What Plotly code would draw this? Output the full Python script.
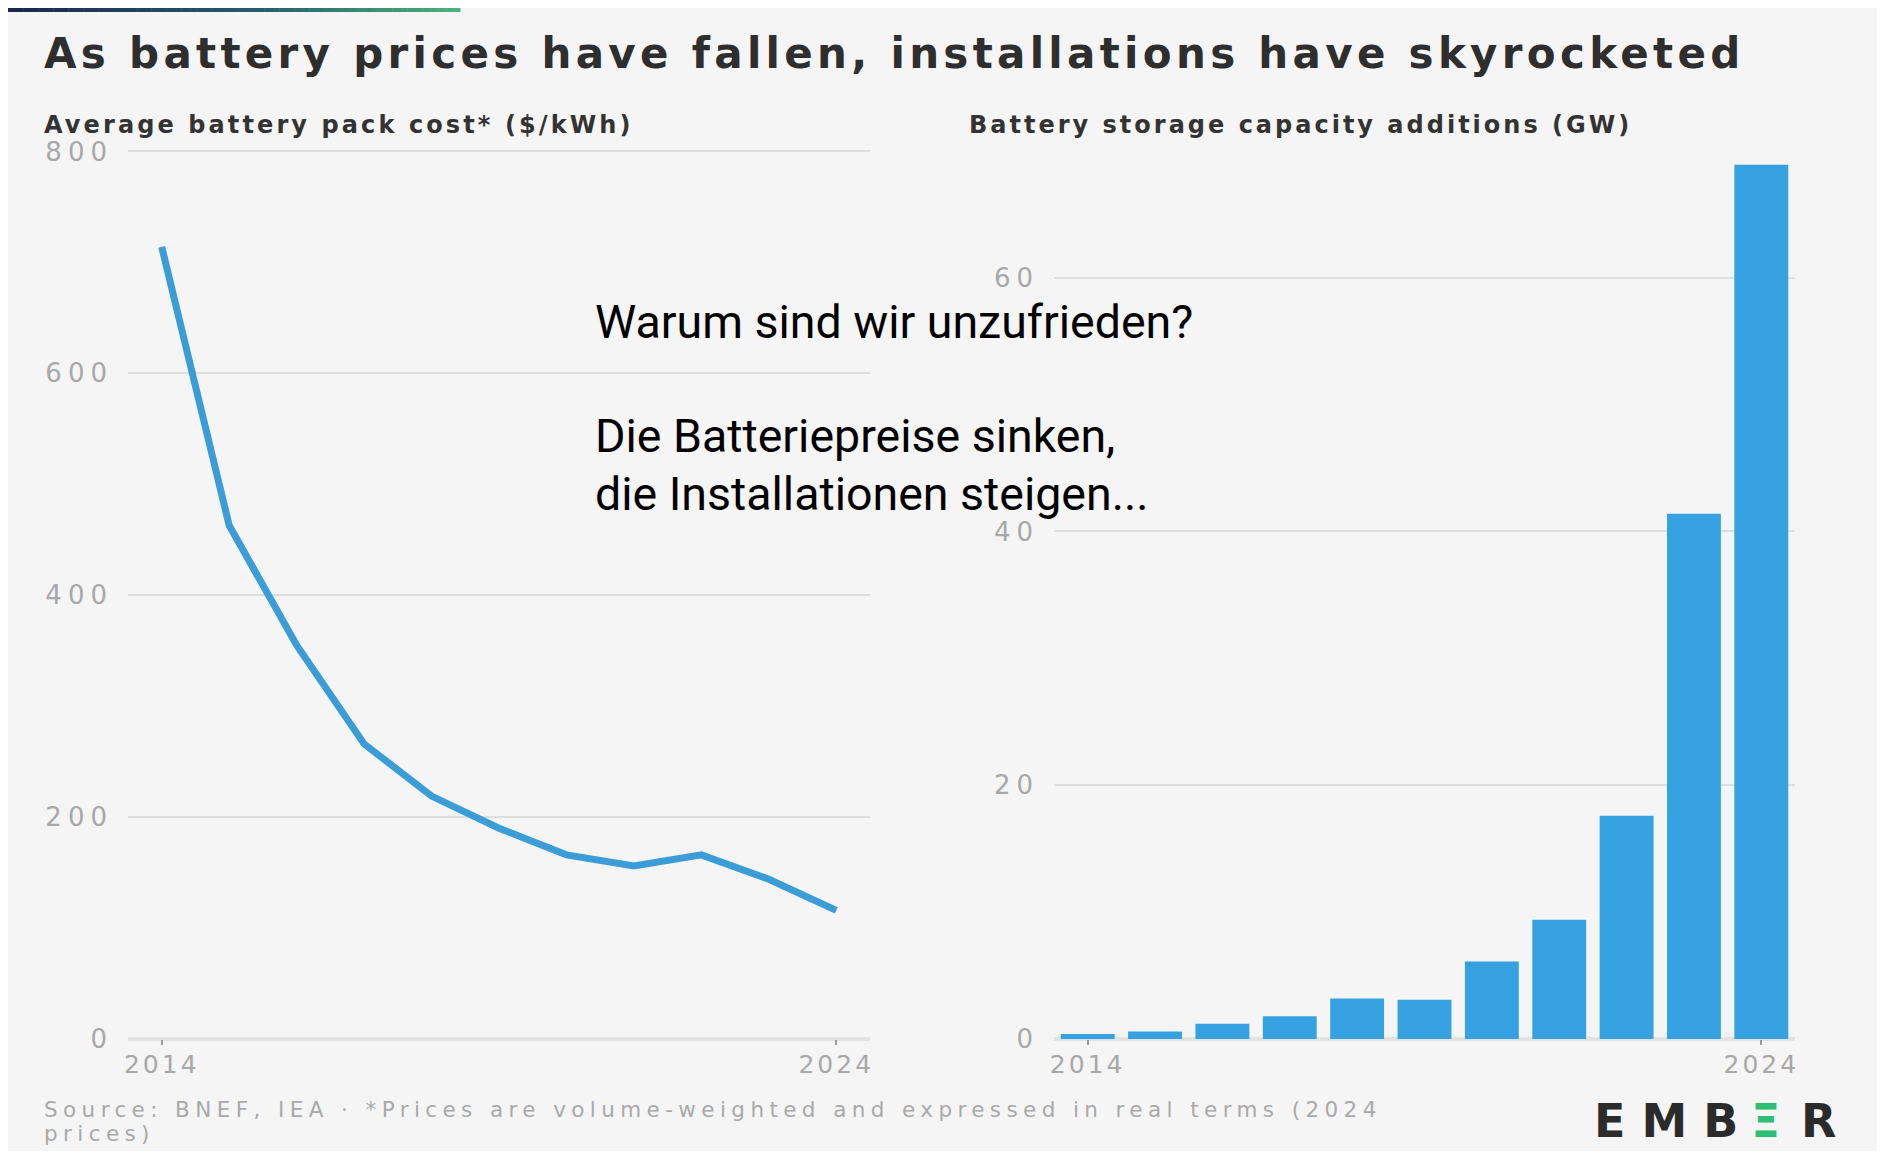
import plotly.graph_objects as go

# ---------------- data ----------------
years = list(range(2014, 2025))
pack_cost = [714, 463, 355, 266, 219, 190, 166, 156, 166, 144, 116]        # $/kWh
storage_gw = [0.4, 0.6, 1.2, 1.8, 3.2, 3.1, 6.1, 9.4, 17.6, 41.4, 68.9]    # GW
cost_ticks = [0, 200, 400, 600, 800]
gw_ticks = [0, 20, 40, 60]
year_ticks = [2014, 2024]

title_text = "As battery prices have fallen, installations have skyrocketed"
left_sub = "Average battery pack cost* ($/kWh)"
right_sub = "Battery storage capacity additions (GW)"
overlay_lines = ["Warum sind wir unzufrieden?", "Die Batteriepreise sinken,",
                 "die Installationen steigen..."]
source_1 = "Source: BNEF, IEA · *Prices are volume-weighted and expressed in real terms (2024"
source_2 = "prices)"

# ---------------- layout helpers ----------------
# figure is drawn inside the page body (8px margin), so reference pixel X -> X-8
W, H = 1869, 1143
def px(x):
    return (x - 8) / W
def py(y):
    return 1 - (y - 8) / H

def spaced(t, ls):
    return "<span style='letter-spacing:%.1fpx'>%s</span>" % (ls, t)

LINE_C = "#3b9dd8"
BAR_C = "#36a2e2"
TICK_C = "#a8a8a8"
GRID_C = "#dedede"
FONT = "DejaVu Sans"

fig = go.Figure()
fig.add_trace(go.Scatter(x=years, y=pack_cost, mode="lines",
                         line=dict(color=LINE_C, width=7),
                         xaxis="x", yaxis="y", showlegend=False, hoverinfo="skip"))
fig.add_trace(go.Bar(x=years, y=storage_gw, marker=dict(color=BAR_C, line_width=0),
                     xaxis="x2", yaxis="y2", showlegend=False, hoverinfo="skip"))

bottom = 1039
xcommon = dict(range=[2013.5, 2024.5], tickvals=year_ticks,
               ticktext=[spaced(str(v), 3) for v in year_ticks],
               ticks="outside", ticklen=5, ticklabelstandoff=-2, automargin=False,
               tickwidth=2, tickcolor="#9a9a9a", showgrid=False, zeroline=False,
               showline=False, tickfont=dict(family=FONT, size=25, color=TICK_C))
ycommon = dict(showgrid=True, gridcolor=GRID_C, gridwidth=2, zeroline=True,
               zerolinecolor="#e2e2e2", zerolinewidth=4, showline=False, ticks="",
               automargin=False,
               ticklabelstandoff=14, tickfont=dict(family=FONT, size=26, color=TICK_C))

fig.update_layout(
    width=W, height=H, margin=dict(l=0, r=0, t=0, b=0, pad=0, autoexpand=False),
    autosize=False,
    paper_bgcolor="#f5f5f5", plot_bgcolor="rgba(0,0,0,0)", bargap=0.2,
    xaxis=dict(domain=[px(128), px(870)], anchor="y", **xcommon),
    yaxis=dict(domain=[py(bottom), py(140.4)], anchor="x", range=[0, 810],
               tickvals=cost_ticks, ticktext=[spaced(str(v), 6) for v in cost_ticks],
               **ycommon),
    xaxis2=dict(domain=[px(1054), px(1795)], anchor="y2", **xcommon),
    yaxis2=dict(domain=[py(bottom), py(150.8)], anchor="x2", range=[0, 70],
                tickvals=gw_ticks, ticktext=[spaced(str(v), 6) for v in gw_ticks],
                **ycommon),
)

# gradient strip at the top
shapes = []
stops = [(0.0, (28, 40, 74)), (0.55, (38, 92, 110)), (1.0, (76, 178, 122))]
n = 60
x_start, x_end = 8, 460
for i in range(n):
    t = i / (n - 1)
    for j in range(len(stops) - 1):
        if stops[j][0] <= t <= stops[j + 1][0]:
            a, ca = stops[j]
            b, cb = stops[j + 1]
            f = (t - a) / (b - a)
            c = tuple(int(ca[k] + (cb[k] - ca[k]) * f) for k in range(3))
            break
    x0 = x_start + (x_end - x_start) * i / n
    x1 = x_start + (x_end - x_start) * (i + 1) / n + 0.5
    shapes.append(dict(type="rect", xref="paper", yref="paper", x0=px(x0), x1=px(x1),
                       y0=py(12), y1=py(8), fillcolor="rgb(%d,%d,%d)" % c, line_width=0,
                       layer="above"))
fig.update_layout(shapes=shapes)

ann = []
ann.append(dict(text="<b>%s</b>" % spaced(title_text, 4.35), x=px(42), y=py(53),
                xref="paper", yref="paper", xanchor="left", yanchor="middle", showarrow=False,
                font=dict(family=FONT, size=42, color="#2e2e2e")))
ann.append(dict(text="<b>%s</b>" % spaced(left_sub, 3.15), x=px(42), y=py(125),
                xref="paper", yref="paper", xanchor="left", yanchor="middle", showarrow=False,
                font=dict(family=FONT, size=24, color="#333333")))
ann.append(dict(text="<b>%s</b>" % spaced(right_sub, 3.0), x=px(967), y=py(125),
                xref="paper", yref="paper", xanchor="left", yanchor="middle", showarrow=False,
                font=dict(family=FONT, size=24, color="#333333")))
for line, yy in zip(overlay_lines, [322, 436, 494]):
    ann.append(dict(text=line, x=px(593), y=py(yy), xref="paper", yref="paper",
                    xanchor="left", yanchor="middle", align="left", showarrow=False,
                    font=dict(family="Roboto", size=46.5, color="#000000")))
ann.append(dict(text=spaced(source_1, 5.4), x=px(42), y=py(1109), xref="paper", yref="paper",
                xanchor="left", yanchor="middle", showarrow=False,
                font=dict(family=FONT, size=21.5, color="#a9a9a9")))
ann.append(dict(text=spaced(source_2, 5.4), x=px(42), y=py(1133), xref="paper", yref="paper",
                xanchor="left", yanchor="middle", showarrow=False,
                font=dict(family=FONT, size=21.5, color="#a9a9a9")))
# EMBER logo as three plain text pieces
for txt, xc, col in [("E M B", 1666, "#2b2b2b"), ("Ξ", 1765, "#2fbf72"), ("R", 1818, "#2b2b2b")]:
    ann.append(dict(text="<b>%s</b>" % txt, x=px(xc), y=py(1121), xref="paper", yref="paper",
                    xanchor="center", yanchor="middle", showarrow=False, borderpad=0,
                    font=dict(family=FONT, size=46, color=col)))
fig.update_layout(annotations=ann)

fig.write_html("out.html")
